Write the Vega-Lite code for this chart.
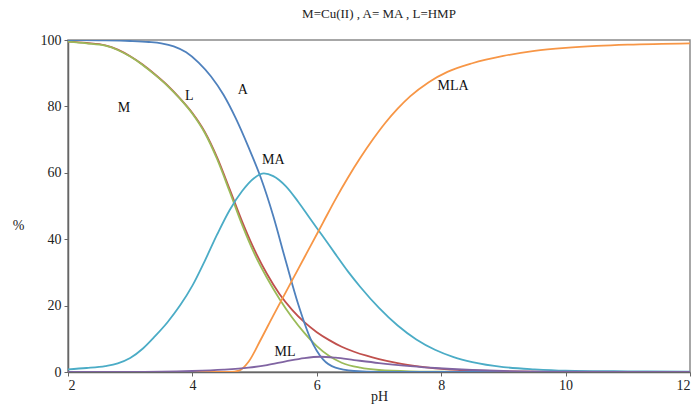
{
  "$schema": "https://vega.github.io/schema/vega-lite/v6.json",
  "width": 622,
  "height": 332,
  "autosize": {"type": "none"},
  "padding": {"left": 68, "top": 40, "right": 9, "bottom": 32},
  "title": {"text": "M=Cu(II) , A= MA , L=HMP", "font": "Liberation Serif", "fontSize": 13, "fontWeight": "normal", "color": "#222", "offset": 12},
  "datasets": {
    "curves": [
      {"pH": 2, "pct": 99.5, "species": "M"}, {"pH": 2.3, "pct": 99.1, "species": "M"}, {"pH": 2.6, "pct": 98.4, "species": "M"}, {"pH": 2.8, "pct": 97.1, "species": "M"}, {"pH": 3.0, "pct": 95.1, "species": "M"}, {"pH": 3.2, "pct": 92.6, "species": "M"}, {"pH": 3.4, "pct": 89.6, "species": "M"}, {"pH": 3.6, "pct": 86.3, "species": "M"}, {"pH": 3.8, "pct": 82.4, "species": "M"}, {"pH": 4.0, "pct": 78, "species": "M"}, {"pH": 4.2, "pct": 72.3, "species": "M"}, {"pH": 4.4, "pct": 64.5, "species": "M"}, {"pH": 4.6, "pct": 55, "species": "M"}, {"pH": 4.8, "pct": 45.3, "species": "M"}, {"pH": 5.0, "pct": 36.7, "species": "M"}, {"pH": 5.2, "pct": 29.5, "species": "M"}, {"pH": 5.4, "pct": 23.5, "species": "M"}, {"pH": 5.6, "pct": 18.8, "species": "M"}, {"pH": 5.8, "pct": 15, "species": "M"}, {"pH": 6.0, "pct": 12, "species": "M"}, {"pH": 6.2, "pct": 9.6, "species": "M"}, {"pH": 6.4, "pct": 7.6, "species": "M"}, {"pH": 6.6, "pct": 6.1, "species": "M"}, {"pH": 6.8, "pct": 4.9, "species": "M"}, {"pH": 7.0, "pct": 3.9, "species": "M"}, {"pH": 7.3, "pct": 2.7, "species": "M"}, {"pH": 7.6, "pct": 1.8, "species": "M"}, {"pH": 7.9, "pct": 1.1, "species": "M"}, {"pH": 8.3, "pct": 0.6, "species": "M"}, {"pH": 9, "pct": 0.2, "species": "M"}, {"pH": 10, "pct": 0.05, "species": "M"}, {"pH": 12, "pct": 0, "species": "M"},

      {"pH": 2, "pct": 99.5, "species": "L"}, {"pH": 2.3, "pct": 99, "species": "L"}, {"pH": 2.6, "pct": 98.3, "species": "L"}, {"pH": 2.8, "pct": 97, "species": "L"}, {"pH": 3.0, "pct": 95, "species": "L"}, {"pH": 3.2, "pct": 92.5, "species": "L"}, {"pH": 3.4, "pct": 89.5, "species": "L"}, {"pH": 3.6, "pct": 86.2, "species": "L"}, {"pH": 3.8, "pct": 82.3, "species": "L"}, {"pH": 4.0, "pct": 77.8, "species": "L"}, {"pH": 4.2, "pct": 72, "species": "L"}, {"pH": 4.4, "pct": 64, "species": "L"}, {"pH": 4.6, "pct": 54.3, "species": "L"}, {"pH": 4.8, "pct": 44.3, "species": "L"}, {"pH": 5.0, "pct": 35.5, "species": "L"}, {"pH": 5.2, "pct": 28.3, "species": "L"}, {"pH": 5.4, "pct": 22, "species": "L"}, {"pH": 5.6, "pct": 16.5, "species": "L"}, {"pH": 5.8, "pct": 11.8, "species": "L"}, {"pH": 6.0, "pct": 7.8, "species": "L"}, {"pH": 6.2, "pct": 4.8, "species": "L"}, {"pH": 6.4, "pct": 2.8, "species": "L"}, {"pH": 6.7, "pct": 1.3, "species": "L"}, {"pH": 7.0, "pct": 0.6, "species": "L"}, {"pH": 7.5, "pct": 0.2, "species": "L"}, {"pH": 8, "pct": 0.1, "species": "L"}, {"pH": 9, "pct": 0, "species": "L"}, {"pH": 12, "pct": 0, "species": "L"},

      {"pH": 2, "pct": 100, "species": "A"}, {"pH": 2.5, "pct": 99.9, "species": "A"}, {"pH": 3.0, "pct": 99.7, "species": "A"}, {"pH": 3.3, "pct": 99.4, "species": "A"}, {"pH": 3.5, "pct": 99.0, "species": "A"}, {"pH": 3.7, "pct": 98.1, "species": "A"}, {"pH": 3.9, "pct": 96.3, "species": "A"}, {"pH": 4.1, "pct": 93.2, "species": "A"}, {"pH": 4.3, "pct": 89, "species": "A"}, {"pH": 4.5, "pct": 83.5, "species": "A"}, {"pH": 4.7, "pct": 76.3, "species": "A"}, {"pH": 4.9, "pct": 67.8, "species": "A"}, {"pH": 5.1, "pct": 58.5, "species": "A"}, {"pH": 5.3, "pct": 47, "species": "A"}, {"pH": 5.5, "pct": 33.5, "species": "A"}, {"pH": 5.7, "pct": 20.5, "species": "A"}, {"pH": 5.9, "pct": 10, "species": "A"}, {"pH": 6.1, "pct": 3.8, "species": "A"}, {"pH": 6.3, "pct": 1.3, "species": "A"}, {"pH": 6.6, "pct": 0.3, "species": "A"}, {"pH": 7, "pct": 0, "species": "A"}, {"pH": 12, "pct": 0, "species": "A"},

      {"pH": 2, "pct": 0.8, "species": "MA"}, {"pH": 2.3, "pct": 1.2, "species": "MA"}, {"pH": 2.6, "pct": 1.8, "species": "MA"}, {"pH": 2.8, "pct": 2.6, "species": "MA"}, {"pH": 3.0, "pct": 4.2, "species": "MA"}, {"pH": 3.2, "pct": 7, "species": "MA"}, {"pH": 3.4, "pct": 10.8, "species": "MA"}, {"pH": 3.6, "pct": 15, "species": "MA"}, {"pH": 3.8, "pct": 20, "species": "MA"}, {"pH": 4.0, "pct": 26, "species": "MA"}, {"pH": 4.2, "pct": 33.5, "species": "MA"}, {"pH": 4.4, "pct": 41.5, "species": "MA"}, {"pH": 4.6, "pct": 48.8, "species": "MA"}, {"pH": 4.8, "pct": 54.5, "species": "MA"}, {"pH": 5.0, "pct": 58.5, "species": "MA"}, {"pH": 5.15, "pct": 59.8, "species": "MA"}, {"pH": 5.3, "pct": 59, "species": "MA"}, {"pH": 5.5, "pct": 56, "species": "MA"}, {"pH": 5.7, "pct": 51.3, "species": "MA"}, {"pH": 5.9, "pct": 46, "species": "MA"}, {"pH": 6.1, "pct": 40.8, "species": "MA"}, {"pH": 6.3, "pct": 35.5, "species": "MA"}, {"pH": 6.5, "pct": 30.3, "species": "MA"}, {"pH": 6.7, "pct": 25.6, "species": "MA"}, {"pH": 7.0, "pct": 19.3, "species": "MA"}, {"pH": 7.3, "pct": 14, "species": "MA"}, {"pH": 7.6, "pct": 9.8, "species": "MA"}, {"pH": 7.9, "pct": 6.7, "species": "MA"}, {"pH": 8.2, "pct": 4.5, "species": "MA"}, {"pH": 8.5, "pct": 3, "species": "MA"}, {"pH": 9, "pct": 1.5, "species": "MA"}, {"pH": 9.5, "pct": 0.8, "species": "MA"}, {"pH": 10, "pct": 0.4, "species": "MA"}, {"pH": 11, "pct": 0.2, "species": "MA"}, {"pH": 12, "pct": 0.1, "species": "MA"},

      {"pH": 2, "pct": 0, "species": "MLA"}, {"pH": 4, "pct": 0, "species": "MLA"}, {"pH": 4.6, "pct": 0, "species": "MLA"}, {"pH": 4.75, "pct": 0.4, "species": "MLA"}, {"pH": 4.9, "pct": 3, "species": "MLA"}, {"pH": 5.1, "pct": 9.8, "species": "MLA"}, {"pH": 5.3, "pct": 17, "species": "MLA"}, {"pH": 5.5, "pct": 24, "species": "MLA"}, {"pH": 5.7, "pct": 31, "species": "MLA"}, {"pH": 5.9, "pct": 38, "species": "MLA"}, {"pH": 6.1, "pct": 45, "species": "MLA"}, {"pH": 6.3, "pct": 52, "species": "MLA"}, {"pH": 6.5, "pct": 58.5, "species": "MLA"}, {"pH": 6.7, "pct": 64.5, "species": "MLA"}, {"pH": 6.9, "pct": 70, "species": "MLA"}, {"pH": 7.1, "pct": 75, "species": "MLA"}, {"pH": 7.3, "pct": 79.3, "species": "MLA"}, {"pH": 7.5, "pct": 83, "species": "MLA"}, {"pH": 7.8, "pct": 87.3, "species": "MLA"}, {"pH": 8.1, "pct": 90.4, "species": "MLA"}, {"pH": 8.5, "pct": 93, "species": "MLA"}, {"pH": 9, "pct": 95.2, "species": "MLA"}, {"pH": 9.5, "pct": 96.7, "species": "MLA"}, {"pH": 10, "pct": 97.6, "species": "MLA"}, {"pH": 10.5, "pct": 98.2, "species": "MLA"}, {"pH": 11, "pct": 98.6, "species": "MLA"}, {"pH": 12, "pct": 99, "species": "MLA"},

      {"pH": 2, "pct": 0, "species": "ML"}, {"pH": 3, "pct": 0.05, "species": "ML"}, {"pH": 3.5, "pct": 0.1, "species": "ML"}, {"pH": 4, "pct": 0.3, "species": "ML"}, {"pH": 4.5, "pct": 0.7, "species": "ML"}, {"pH": 4.9, "pct": 1.3, "species": "ML"}, {"pH": 5.2, "pct": 2.1, "species": "ML"}, {"pH": 5.5, "pct": 3.2, "species": "ML"}, {"pH": 5.8, "pct": 4.2, "species": "ML"}, {"pH": 6.05, "pct": 4.6, "species": "ML"}, {"pH": 6.3, "pct": 4.3, "species": "ML"}, {"pH": 6.6, "pct": 3.6, "species": "ML"}, {"pH": 7.0, "pct": 2.7, "species": "ML"}, {"pH": 7.5, "pct": 1.8, "species": "ML"}, {"pH": 7.9, "pct": 1.2, "species": "ML"}, {"pH": 8.5, "pct": 0.6, "species": "ML"}, {"pH": 9, "pct": 0.3, "species": "ML"}, {"pH": 10, "pct": 0.1, "species": "ML"}, {"pH": 12, "pct": 0, "species": "ML"}
    ],
    "labels": [
      {"pH": 2.9, "pct": 79.5, "label": "M"},
      {"pH": 3.95, "pct": 83, "label": "L"},
      {"pH": 4.81, "pct": 85, "label": "A"},
      {"pH": 5.3, "pct": 64, "label": "MA"},
      {"pH": 8.19, "pct": 86, "label": "MLA"},
      {"pH": 5.49, "pct": 6, "label": "ML"}
    ]
  },
  "layer": [
    {
      "data": {"name": "curves"},
      "mark": {"type": "line", "interpolate": "monotone", "strokeWidth": 1.8, "clip": true},
      "encoding": {
        "x": {"field": "pH", "type": "quantitative", "scale": {"domain": [2, 12], "nice": false}, "axis": {"values": [2, 4, 6, 8, 10, 12], "format": "d", "title": "pH", "grid": false, "tickSize": 4, "labelPadding": 2, "titleBaseline": "bottom", "titleY": 31}},
        "y": {"field": "pct", "type": "quantitative", "scale": {"domain": [0, 100], "nice": false}, "axis": {"values": [0, 20, 40, 60, 80, 100], "format": "d", "title": "%", "grid": false, "tickSize": 4, "labelPadding": 3, "titleAngle": 0, "titleX": -50, "titleY": 185, "titleAlign": "center", "titleBaseline": "middle"}},
        "color": {"field": "species", "type": "nominal", "scale": {"domain": ["M", "L", "A", "MA", "MLA", "ML"], "range": ["#c0504d", "#9bbb59", "#4f81bd", "#4bacc6", "#f79646", "#8064a2"]}, "legend": null},
        "order": {"value": 0}
      }
    },
    {
      "data": {"name": "labels"},
      "mark": {"type": "text", "font": "Liberation Serif", "fontSize": 14, "color": "#111", "align": "center", "baseline": "middle"},
      "encoding": {
        "x": {"field": "pH", "type": "quantitative"},
        "y": {"field": "pct", "type": "quantitative"},
        "text": {"field": "label"}
      }
    }
  ],
  "config": {
    "view": {"stroke": "#8a8a8a", "strokeWidth": 1.5},
    "axis": {"labelFont": "Liberation Serif", "labelFontSize": 14, "labelColor": "#222", "titleFont": "Liberation Serif", "titleFontSize": 14, "titleFontWeight": "normal", "titleColor": "#222", "domainColor": "#666", "domainWidth": 1.5, "tickColor": "#666"}
  }
}
